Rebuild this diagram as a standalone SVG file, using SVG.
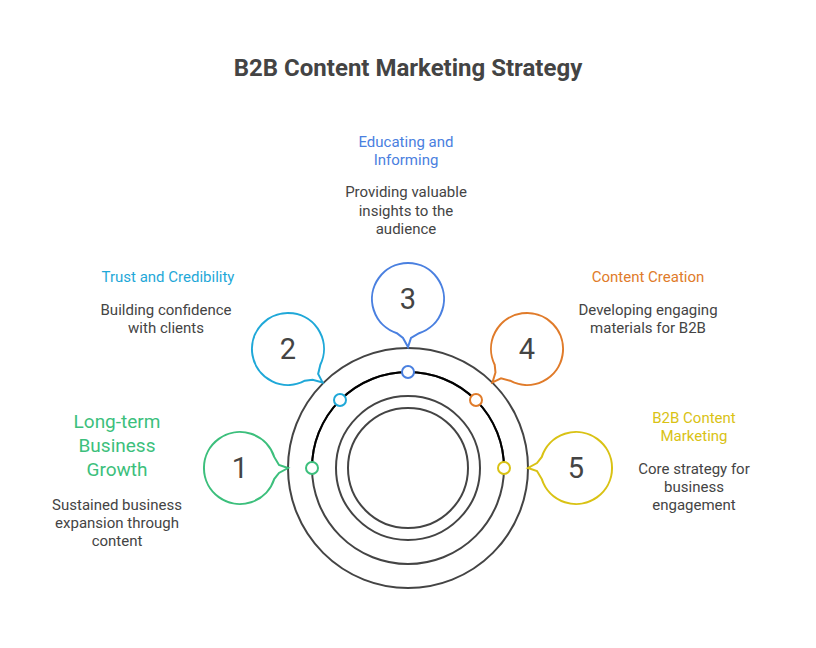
<svg xmlns="http://www.w3.org/2000/svg" width="816" height="648" viewBox="0 0 816 648">
<style>
text{font-family:Roboto,"Liberation Sans",sans-serif;text-anchor:middle}
.t{font-size:15px;fill:#444}
.h{font-size:15px}
.n{font-size:29px;fill:#444}
.g{font-size:19px;fill:#3cbf7c}
.b{fill:#fff;stroke-width:2}
.ring{fill:none;stroke:#444;stroke-width:2}
.dot{fill:#fff;stroke-width:2}
</style>
<defs>
<path id="bub" d="M34.2,-11.1 A36,36 0 1 0 34.2,11.1 L39,5 L48,0 L39,-3 Z"/>
</defs>
<rect width="816" height="648" fill="#fff"/>
<text x="408" y="76" style="font-size:24px;font-weight:bold;fill:#444">B2B Content Marketing Strategy</text>
<g id="connectors">
<circle class="ring" cx="408" cy="468" r="120"/>
<circle class="ring" cx="408" cy="468" r="96"/>
<path d="M312,468 A96,96 0 0 1 504,468" fill="none" stroke="#000" stroke-width="2"/>
<circle class="ring" cx="408" cy="468" r="72"/>
<circle class="ring" cx="408" cy="468" r="60"/>
</g>
<g id="node1">
<use href="#bub" class="b" stroke="#3cbf7c" transform="translate(240,468)"/>
<circle class="dot" stroke="#3cbf7c" cx="312" cy="468" r="6"/>
<text class="n" x="240" y="478">1</text>
<text class="g" x="117" y="428">Long-term</text>
<text class="g" x="117" y="452">Business</text>
<text class="g" x="117" y="476">Growth</text>
<text class="t" x="117" y="510">Sustained business</text>
<text class="t" x="117" y="528">expansion through</text>
<text class="t" x="117" y="546">content</text>
</g>
<g id="node2">
<use href="#bub" class="b" stroke="#1fa8d8" transform="translate(288,349) rotate(44)"/>
<circle class="dot" stroke="#1fa8d8" cx="340" cy="400" r="6"/>
<text class="n" x="288" y="359">2</text>
<text class="h" x="168" y="282" fill="#1fa8d8">Trust and Credibility</text>
<text class="t" x="166" y="315">Building confidence</text>
<text class="t" x="166" y="333">with clients</text>
</g>
<g id="node3">
<use href="#bub" class="b" stroke="#4a80e0" transform="translate(408,299) rotate(90)"/>
<circle class="dot" stroke="#4a80e0" cx="408" cy="372" r="6"/>
<text class="n" x="408" y="309">3</text>
<text class="h" x="406" y="147" fill="#4a80e0">Educating and</text>
<text class="h" x="406" y="165" fill="#4a80e0">Informing</text>
<text class="t" x="406" y="197">Providing valuable</text>
<text class="t" x="406" y="216">insights to the</text>
<text class="t" x="406" y="234">audience</text>
</g>
<g id="node4">
<use href="#bub" class="b" stroke="#e07b2a" transform="translate(527,349) rotate(136)"/>
<circle class="dot" stroke="#e07b2a" cx="476" cy="400" r="6"/>
<text class="n" x="527" y="359">4</text>
<text class="h" x="648" y="282" fill="#e07b2a">Content Creation</text>
<text class="t" x="648" y="315">Developing engaging</text>
<text class="t" x="648" y="333">materials for B2B</text>
</g>
<g id="node5">
<use href="#bub" class="b" stroke="#d9c214" transform="translate(576,468) rotate(180)"/>
<circle class="dot" stroke="#d9c214" cx="504" cy="468" r="6"/>
<text class="n" x="576" y="478">5</text>
<text class="h" x="694" y="423" fill="#d9c214">B2B Content</text>
<text class="h" x="694" y="441" fill="#d9c214">Marketing</text>
<text class="t" x="694" y="474">Core strategy for</text>
<text class="t" x="694" y="492">business</text>
<text class="t" x="694" y="510">engagement</text>
</g>
</svg>
